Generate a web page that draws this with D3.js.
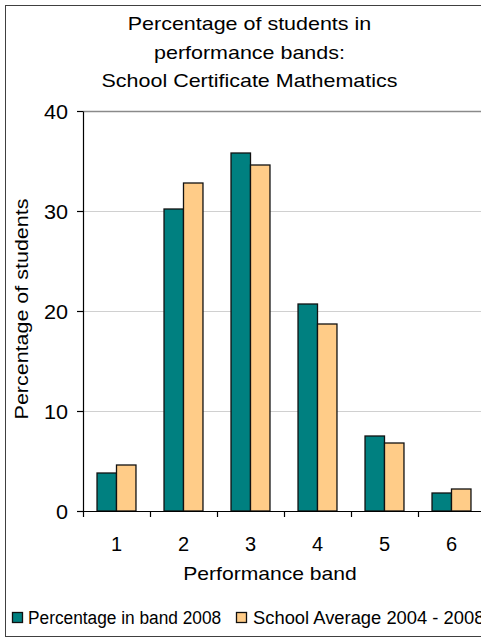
<!DOCTYPE html>
<html>
<head>
<meta charset="utf-8">
<script src="https://cdn.jsdelivr.net/npm/d3@7"></script>
<style>
  html, body { margin: 0; padding: 0; background: #fff; }
  svg { display: block; }
  text { font-family: "Liberation Sans", Arial, sans-serif; fill: #000; }
</style>
</head>
<body>
<svg id="chart" width="481" height="639"></svg>
<script>
// Performance bands and the two series shown per band
const bands = ["1", "2", "3", "4", "5", "6"];
const seriesNames = ["Percentage in band 2008", "School Average 2004 - 2008"];
const band2008 = [3.8, 30.2, 35.8, 20.7, 7.5, 1.8];
const schoolAverage = [4.6, 32.8, 34.6, 18.7, 6.8, 2.2];
const yTicks = [0, 10, 20, 30, 40];
const titleLines = ["Percentage of students in", "performance bands:", "School Certificate Mathematics"];
const colors = ["#008080", "#FFCC88"];

const svg = d3.select("#chart");

// stretch text horizontally to mimic the wide rendering of the chart font
function widen(sel, factor) {
  sel.each(function (d, i) {
    const f = typeof factor === "function" ? factor(d, i) : factor;
    const len = this.getComputedTextLength();
    d3.select(this).attr("textLength", len * f).attr("lengthAdjust", "spacingAndGlyphs");
  });
}

// outer chart frame
svg.append("rect")
  .attr("x", 5.5).attr("y", 5.5)
  .attr("width", 495).attr("height", 631)
  .attr("fill", "#fff").attr("stroke", "#404040").attr("stroke-width", 1);

const plot = { left: 83, right: 485, top: 111, bottom: 511 };

const x = d3.scaleBand().domain(bands).range([plot.left, plot.right]).padding(0);
const xSub = d3.scaleBand().domain(seriesNames).range([0, x.bandwidth()])
  .paddingInner(0).paddingOuter(0.72);
const y = d3.scaleLinear().domain([0, 40]).range([plot.bottom, plot.top]);

// horizontal gridlines
svg.append("g").selectAll("line").data(yTicks.filter(t => t > 0)).join("line")
  .attr("x1", plot.left).attr("x2", plot.right + 10)
  .attr("y1", d => y(d) + 0.5).attr("y2", d => y(d) + 0.5)
  .attr("stroke", d => d === 40 ? "#8a8a8a" : "#d0d0d0")
  .attr("stroke-width", d => d === 40 ? 1.5 : 1.2);

// bars
const rows = bands.map((b, i) => ({ band: b, values: [band2008[i], schoolAverage[i]] }));
svg.append("g").selectAll("g").data(rows).join("g")
  .attr("transform", d => `translate(${x(d.band)},0)`)
  .selectAll("rect").data(d => d.values.map((v, j) => ({ key: seriesNames[j], v, j }))).join("rect")
  .attr("x", d => xSub(d.key))
  .attr("width", xSub.bandwidth())
  .attr("y", d => y(d.v))
  .attr("height", d => y(0) - y(d.v))
  .attr("fill", d => colors[d.j])
  .attr("stroke", "#111").attr("stroke-width", 1.3);

// y axis
const yAxis = svg.append("g")
  .attr("transform", `translate(${plot.left},0)`)
  .call(d3.axisLeft(y).tickValues(yTicks).tickSize(6).tickSizeOuter(0).tickPadding(9));
yAxis.select(".domain").attr("stroke", "#000").attr("stroke-width", 1.2);
yAxis.selectAll(".tick line").attr("stroke", "#000").attr("stroke-width", 1.2);
yAxis.selectAll(".tick text").attr("font-size", 20).attr("dy", "0.38em")
  .style("font-family", "'Liberation Sans', Arial, sans-serif");
widen(yAxis.selectAll(".tick text"), 1.08);

// x axis: labels at band centres, tick marks at band boundaries
const xAxis = svg.append("g")
  .attr("transform", `translate(0,${plot.bottom})`)
  .call(d3.axisBottom(x).tickSize(0).tickPadding(26));
xAxis.select(".domain").remove();
xAxis.selectAll(".tick text").attr("font-size", 20)
  .style("font-family", "'Liberation Sans', Arial, sans-serif");
svg.append("line")
  .attr("x1", plot.left - 6).attr("x2", plot.right + 10)
  .attr("y1", plot.bottom + 0.5).attr("y2", plot.bottom + 0.5)
  .attr("stroke", "#000").attr("stroke-width", 1.2);
const boundaries = bands.map(b => x(b)).concat([plot.right]);
svg.append("g").selectAll("line").data(boundaries).join("line")
  .attr("x1", d => Math.round(d) + 0.5).attr("x2", d => Math.round(d) + 0.5)
  .attr("y1", plot.bottom).attr("y2", plot.bottom + 6)
  .attr("stroke", "#000").attr("stroke-width", 1.2);

// title
const title = svg.append("g").selectAll("text").data(titleLines).join("text")
  .attr("x", 249.5).attr("y", (d, i) => 30 + i * 28.5)
  .attr("text-anchor", "middle").attr("font-size", 19)
  .text(d => d);
widen(title, 1.13);

// axis titles
const xTitle = svg.append("text")
  .attr("x", 270).attr("y", 580).attr("text-anchor", "middle")
  .attr("font-size", 19).text("Performance band");
widen(xTitle, 1.11);

const yTitle = svg.append("text")
  .attr("transform", "translate(28,309) rotate(-90)")
  .attr("text-anchor", "middle").attr("font-size", 19)
  .text("Percentage of students");
widen(yTitle, 1.13);

// legend
const legendX = [12, 236];
const legend = svg.append("g").selectAll("g").data(seriesNames).join("g")
  .attr("transform", (d, i) => `translate(${legendX[i]},612)`);
legend.append("rect")
  .attr("x", 0.5).attr("y", 0.5).attr("width", 10).attr("height", 10)
  .attr("fill", (d, i) => colors[i]).attr("stroke", "#111").attr("stroke-width", 1.3);
const legendText = legend.append("text")
  .attr("x", (d, i) => i === 0 ? 16 : 17).attr("y", 12)
  .attr("font-size", 18).text(d => d);
widen(legendText, (d, i) => i === 0 ? 0.96 : 1.02);
</script>
</body>
</html>
